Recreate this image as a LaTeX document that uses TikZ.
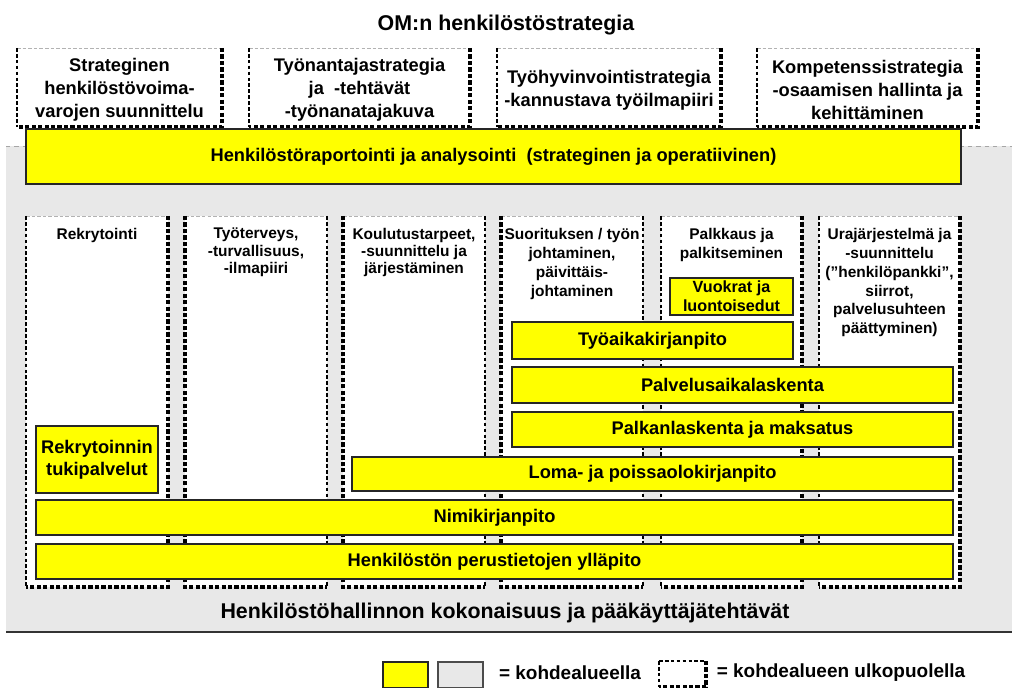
\documentclass[tikz,border=0pt]{standalone}
\usepackage{fontspec}
\setmainfont{Liberation Sans}
\usetikzlibrary{positioning}
\definecolor{hrgray}{HTML}{E8E8E8}
\definecolor{hryellow}{HTML}{FFFF00}

\begin{document}
\begin{tikzpicture}[x=0.025cm, y=-0.025cm]
\tikzstyle{every node}+=[inner sep=0pt]
\tikzstyle{thinedge}=[black, line width=0.8pt, dash pattern=on 2.6pt off 1.6pt]
\tikzstyle{paleedge}=[black!30, line width=0.6pt, dash pattern=on 2.5pt off 1.5pt]
\tikzstyle{thickedge}=[black, line width=2.4pt, dash pattern=on 3pt off 1.6pt]
\tikzstyle{barbox}=[fill=hryellow, draw=black!85, line width=1.3pt]
\tikzstyle{bigtext}=[font=\fontsize{15.2}{18}\selectfont\bfseries]
\tikzstyle{headtext}=[font=\fontsize{13}{16.4}\selectfont\bfseries, align=center]
\tikzstyle{bartext}=[font=\fontsize{13}{15.6}\selectfont\bfseries, align=center]
\tikzstyle{coltext}=[font=\fontsize{11}{12.2}\selectfont\bfseries, align=center, anchor=north]
\tikzstyle{coltextwide}=[font=\fontsize{11}{13.4}\selectfont\bfseries, align=center, anchor=north]
\useasboundingbox (0,0) rectangle (1012,688);
% title
\node [bigtext] (title) at (506,25) {OM:n henkilöstöstrategia};
% strategy boxes
\fill [white] (17,48) rectangle (222,127);
\draw [paleedge] (17,48) -- (222,48);
\draw [thinedge] (17,48) -- (17,127);
\draw [thickedge] (222,48) -- (222,127) -- (17,127);
\node [headtext] (suunnittelu) at (119.5,90) {Strateginen\\henkilöstövoima-\\varojen suunnittelu};
\fill [white] (249,48) rectangle (470,127);
\draw [paleedge] (249,48) -- (470,48);
\draw [thinedge] (249,48) -- (249,127);
\draw [thickedge] (470,48) -- (470,127) -- (249,127);
\node [headtext] (tyonantaja) at (359.5,90) {Työnantajastrategia\\ja \ -tehtävät\\-työnanatajakuva};
\fill [white] (497,48) rectangle (721,127);
\draw [paleedge] (497,48) -- (721,48);
\draw [thinedge] (497,48) -- (497,127);
\draw [thickedge] (721,48) -- (721,127) -- (497,127);
\node [headtext] (tyohyvinvointi) at (609,90) {Työhyvinvointistrategia\\-kannustava työilmapiiri};
\fill [white] (757,48) rectangle (978,127);
\draw [paleedge] (757,48) -- (978,48);
\draw [thinedge] (757,48) -- (757,127);
\draw [thickedge] (978,48) -- (978,127) -- (757,127);
\node [headtext] (kompetenssi) at (867.5,90) {Kompetenssistrategia\\-osaamisen hallinta ja\\kehittäminen};
% grey area
\fill [hrgray] (6,146) rectangle (1012,632);
\draw [gray!70, dashed, line width=0.5pt] (6,146) -- (1012,146);
\draw [black!80, line width=1.2pt] (6,632) -- (1012,632);
\draw [barbox] (26,129) rectangle (961,184);
\node [bartext] (raportointi) at (493.5,156.5) {Henkilöstöraportointi ja analysointi \ (strateginen ja operatiivinen)};
% columns
\fill [white] (26,216) rectangle (168,587);
\draw [paleedge] (26,216) -- (168,216);
\draw [thinedge] (26,216) -- (26,587);
\draw [thickedge] (168,216) -- (168,587) -- (26,587);
\node [coltext] (rekry) at (97,228) {Rekrytointi};
\fill [white] (185,216) rectangle (327,587);
\draw [paleedge] (185,216) -- (327,216);
\draw [thinedge] (327,216) -- (327,587);
\draw [thickedge] (185,216) -- (185,587) -- (327,587);
\node [coltext] (tyoterveys) at (256,228) {Työterveys,\\-turvallisuus,\\-ilmapiiri};
\fill [white] (343,216) rectangle (485,587);
\draw [paleedge] (343,216) -- (485,216);
\draw [thinedge] (485,216) -- (485,587);
\draw [thickedge] (343,216) -- (343,587) -- (485,587);
\node [coltext] (koulutus) at (414,228) {Koulutustarpeet,\\-suunnittelu ja\\järjestäminen};
\fill [white] (501,216) rectangle (643,587);
\draw [paleedge] (501,216) -- (643,216);
\draw [thinedge] (643,216) -- (643,587);
\draw [thickedge] (501,216) -- (501,587) -- (643,587);
\node [coltextwide] (suoritus) at (572,228) {Suorituksen / työn\\johtaminen,\\päivittäis-\\johtaminen};
\fill [white] (661,216) rectangle (802,587);
\draw [paleedge] (661,216) -- (802,216);
\draw [thinedge] (661,216) -- (661,587);
\draw [thickedge] (802,216) -- (802,587) -- (661,587);
\node [coltextwide] (palkkaus) at (731.5,228) {Palkkaus ja\\palkitseminen};
\fill [white] (819,216) rectangle (960,587);
\draw [paleedge] (819,216) -- (960,216);
\draw [thinedge] (819,216) -- (819,587);
\draw [thickedge] (960,216) -- (960,587) -- (819,587);
\node [coltextwide] (ura) at (889.5,228) {Urajärjestelmä ja\\-suunnittelu\\(”henkilöpankki”,\\siirrot,\\palvelusuhteen\\päättyminen)};
% yellow bars
\draw [barbox] (670,278) rectangle (793,315);
\node [font=\fontsize{11.5}{13.5}\selectfont\bfseries, align=center] (vuokrat) at (731.5,296.5) {Vuokrat ja\\luontoisedut};
\draw [barbox] (512,322) rectangle (793,359);
\node [bartext] (tyoaika) at (652.5,340.5) {Työaikakirjanpito};
\draw [barbox] (512,367) rectangle (953,403);
\node [bartext] (palvelusaika) at (732.5,385) {Palvelusaikalaskenta};
\draw [barbox] (512,412) rectangle (953,447);
\node [bartext] (palkanlaskenta) at (732.5,429.5) {Palkanlaskenta ja maksatus};
\draw [barbox] (352,457) rectangle (953,491);
\node [bartext] (loma) at (652.5,474) {Loma- ja poissaolokirjanpito};
\draw [barbox] (36,426) rectangle (158,493);
\node [bartext] (tukipalvelut) at (97,459.5) {Rekrytoinnin\\tukipalvelut};
\draw [barbox] (36,500) rectangle (953,535);
\node [bartext] (nimikirjanpito) at (494.5,517.5) {Nimikirjanpito};
\draw [barbox] (36,544) rectangle (953,579);
\node [bartext] (perustiedot) at (494.5,561.5) {Henkilöstön perustietojen ylläpito};
\node [bigtext] (kokonaisuus) at (505,613) {Henkilöstöhallinnon kokonaisuus ja pääkäyttäjätehtävät};
% legend
\draw [fill=hryellow, draw=black!85, line width=1pt] (383,662) rectangle (428,688);
\draw [fill=hrgray, draw=black!70, line width=1pt] (438,662) rectangle (483,688);
\node [font=\fontsize{13.5}{16}\selectfont\bfseries] (kohde) at (570,673) {= kohdealueella};
\fill [white] (659,661) rectangle (706,687);
\draw [thinedge] (659,661) -- (706,661);
\draw [thinedge] (659,661) -- (659,687);
\draw [thickedge] (706,661) -- (706,687) -- (659,687);
\node [font=\fontsize{13.5}{16}\selectfont\bfseries] (ulko) at (841,673) {= kohdealueen ulkopuolella};
\end{tikzpicture}
\end{document}
